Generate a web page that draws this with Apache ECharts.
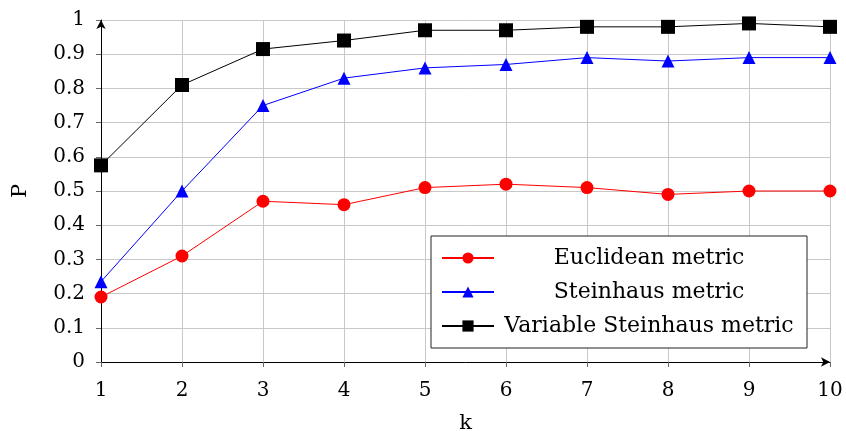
<!DOCTYPE html>
<html>
<head>
<meta charset="utf-8">
<script src="https://cdn.jsdelivr.net/npm/echarts@6/dist/echarts.min.js"></script>
<style>
html,body{margin:0;padding:0;background:#fff;}
#chart{width:846px;height:431px;}
</style>
</head>
<body>
<div id="chart"></div>
<script>
var kValues = [1, 2, 3, 4, 5, 6, 7, 8, 9, 10];
var euclidean = [0.19, 0.31, 0.47, 0.46, 0.51, 0.52, 0.51, 0.49, 0.50, 0.50];
var steinhaus = [0.235, 0.50, 0.75, 0.83, 0.86, 0.87, 0.89, 0.88, 0.89, 0.89];
var varSteinhaus = [0.575, 0.81, 0.915, 0.94, 0.97, 0.97, 0.98, 0.98, 0.99, 0.98];
var seriesNames = ['Euclidean metric', 'Steinhaus metric', 'Variable Steinhaus metric'];

function pairs(vals){
	var out = [];
	for(var i=0;i<kValues.length;i++){
		out.push([kValues[i], vals[i]]);
	}
	return out;
}

var font = 'DejaVu Serif';

function mkSeries(name, vals, color, symbol, size){
	return {
		name: name,
		type: 'line',
		data: pairs(vals),
		symbol: symbol,
		symbolSize: size,
		showAllSymbol: true,
		lineStyle: {color: color, width: 1},
		itemStyle: {color: color},
		emphasis: {disabled: true},
		animation: false
	};
}

var myChart = echarts.init(document.getElementById('chart'));
var option = {
	backgroundColor: '#fff',
	animation: false,
	grid: {left: 101, right: 16, top: 20, bottom: 69, containLabel: false, outerBoundsMode: 'none'},
	xAxis: {
		type: 'value',
		min: 1, max: 10, interval: 1,
		name: 'k',
		nameLocation: 'middle',
		nameGap: 51,
		nameTextStyle: {fontFamily: font, fontSize: 21, color: '#000'},
		axisLine: {show: true, lineStyle: {color: '#000', width: 1}, symbol: ['none', 'arrow'], symbolSize: [7, 9]},
		axisTick: {show: true, inside: false, length: 5, lineStyle: {color: '#666'}},
		axisLabel: {fontFamily: font, fontSize: 20, color: '#000', margin: 19},
		splitLine: {show: true, lineStyle: {color: '#c8c8c8', width: 1}}
	},
	yAxis: {
		type: 'value',
		min: 0, max: 1, interval: 0.1,
		name: 'P',
		nameLocation: 'middle',
		nameGap: 70,
		nameRotate: 90,
		nameTextStyle: {fontFamily: font, fontSize: 21, color: '#000'},
		axisLine: {show: true, lineStyle: {color: '#000', width: 1}, symbol: ['none', 'arrow'], symbolSize: [7, 9]},
		axisTick: {show: true, inside: false, length: 5, lineStyle: {color: '#666'}},
		axisLabel: {fontFamily: font, fontSize: 20, color: '#000', margin: 16},
		splitLine: {show: true, lineStyle: {color: '#c8c8c8', width: 1}}
	},
	legend: {
		left: 431,
		top: 236,
		orient: 'vertical',
		data: seriesNames,
		backgroundColor: '#fff',
		borderColor: '#222',
		borderWidth: 1,
		padding: [11, 8, 11, 10],
		itemGap: 12,
		itemWidth: 52,
		itemHeight: 14,
		formatter: function(name){
			return '{a|' + name + '}';
		},
		textStyle: {
			fontFamily: font, fontSize: 22, color: '#000',
			rich: {a: {fontFamily: font, fontSize: 22, color: '#000', width: 300, align: 'center', lineHeight: 22}}
		},
		selectedMode: false
	},
	series: [
		mkSeries(seriesNames[0], euclidean, '#ff0000', 'circle', 13),
		mkSeries(seriesNames[1], steinhaus, '#0000ff', 'triangle', 13),
		mkSeries(seriesNames[2], varSteinhaus, '#000000', 'rect', 14)
	]
};
myChart.setOption(option);
</script>
</body>
</html>
